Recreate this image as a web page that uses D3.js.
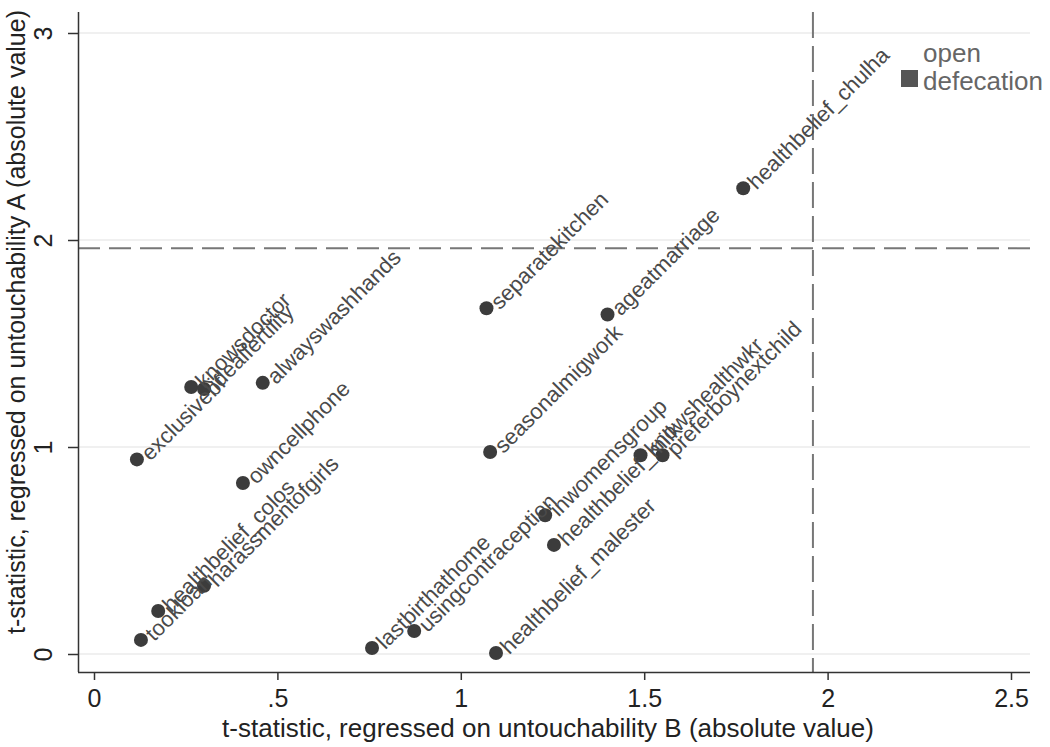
<!DOCTYPE html>
<html><head><meta charset="utf-8">
<script src="https://cdn.jsdelivr.net/npm/d3@7"></script>
<style>body{margin:0;background:#fff}svg{display:block}text{font-family:"Liberation Sans",Arial,sans-serif}</style>
</head><body><svg id="c" width="1050" height="747"></svg>
<script>
const labels = ["healthbelief_chulha","separatekitchen","ageatmarriage","alwayswashhands","knowsdoctor","idealfertility","exclusivebf","seasonalmigwork","owncellphone","healthbelief_colos","harassmentofgirls","tookloan","lastbirthathome","usingcontraception","inwomensgroup","healthbelief_milk","healthbelief_malester","knowshealthwkr","preferboynextchild"];
const xVals = [1.77,1.07,1.40,0.46,0.265,0.30,0.117,1.08,0.406,0.175,0.30,0.128,0.758,0.873,1.23,1.254,1.096,1.49,1.55];
const yVals = [2.25,1.67,1.64,1.31,1.29,1.28,0.94,0.976,0.826,0.208,0.33,0.068,0.029,0.111,0.67,0.527,0.005,0.96,0.96];
const xTicks = [0,0.5,1,1.5,2,2.5];
const xTickLabels = ["0",".5","1","1.5","2","2.5"];
const yTicks = [0,1,2,3];
const yTickLabels = ["0","1","2","3"];
const refLine = 1.96;
const legendLabel = ["open","defecation"];

const svg = d3.select("#c");
const x = d3.scaleLinear().domain([0,2.5]).range([94,1011]);
const y = d3.scaleLinear().domain([0,3]).range([654,33]);
const pL = 78, pR = 1030, pT = 12, pB = 672;

// gridlines
svg.append("g").selectAll("line").data(yTicks).join("line")
  .attr("x1",pL).attr("x2",pR).attr("y1",d=>y(d)).attr("y2",d=>y(d))
  .attr("stroke","#ebebeb").attr("stroke-width",1.5);

// reference lines
svg.append("line").attr("x1",pL).attr("x2",pR).attr("y1",y(refLine)).attr("y2",y(refLine))
  .attr("stroke","#777").attr("stroke-width",2).attr("stroke-dasharray","22,9");
svg.append("line").attr("x1",x(refLine)).attr("x2",x(refLine)).attr("y1",pT).attr("y2",pB)
  .attr("stroke","#777").attr("stroke-width",2).attr("stroke-dasharray","26,8");

// axes
const xAxis = d3.axisBottom(x).tickValues(xTicks).tickFormat((d,i)=>xTickLabels[i]).tickSize(8).tickPadding(6);
const gx = svg.append("g").attr("transform",`translate(0,${pB})`).call(xAxis);
gx.select(".domain").attr("d",`M${pL},0.5H${pR}`);
const yAxis = d3.axisLeft(y).tickValues(yTicks).tickFormat((d,i)=>yTickLabels[i]).tickSize(10).tickPadding(8);
const gy = svg.append("g").attr("transform",`translate(${pL},0)`).call(yAxis);
gy.select(".domain").attr("d",`M0.5,${pT}V${pB}`);
[gx,gy].forEach(g=>{
  g.selectAll(".domain").attr("stroke","#333").attr("stroke-width",1.5);
  g.selectAll(".tick line").attr("stroke","#333").attr("stroke-width",1.5);
  g.selectAll(".tick text").attr("fill","#222").style("font-size","25px");
});
gy.selectAll(".tick text").attr("transform","rotate(-90)").attr("x",0).attr("y",-26)
  .attr("text-anchor","middle").attr("dy","0");
gx.selectAll(".tick text").attr("y",35).attr("dy","0");

// axis titles
svg.append("text").attr("x",548).attr("y",737).attr("text-anchor","middle")
  .style("font-size","26px").attr("fill","#222")
  .text("t-statistic, regressed on untouchability B (absolute value)");
svg.append("text").attr("transform",`translate(25,322) rotate(-90)`).attr("text-anchor","middle")
  .style("font-size","25px").attr("fill","#222")
  .text("t-statistic, regressed on untouchability A (absolute value)");

// points
const data = labels.map((l,i)=>({l, x:xVals[i], y:yVals[i]}));
svg.append("g").selectAll("circle").data(data).join("circle")
  .attr("cx",d=>x(d.x)).attr("cy",d=>y(d.y)).attr("r",7).attr("fill","#3c3c3c");
svg.append("g").selectAll("text").data(data).join("text")
  .attr("transform",d=>`translate(${x(d.x)+8},${y(d.y)-3}) rotate(-45)`)
  .attr("dominant-baseline","central")
  .style("font-size","22px").attr("fill","#4a4a4a").text(d=>d.l);

// legend
svg.append("rect").attr("x",901).attr("y",70).attr("width",17).attr("height",17).attr("fill","#555");
svg.append("g").selectAll("text").data(legendLabel).join("text")
  .attr("x",923).attr("y",(d,i)=>62+i*28).style("font-size","26px").attr("fill","#666").text(d=>d);
</script></body></html>
